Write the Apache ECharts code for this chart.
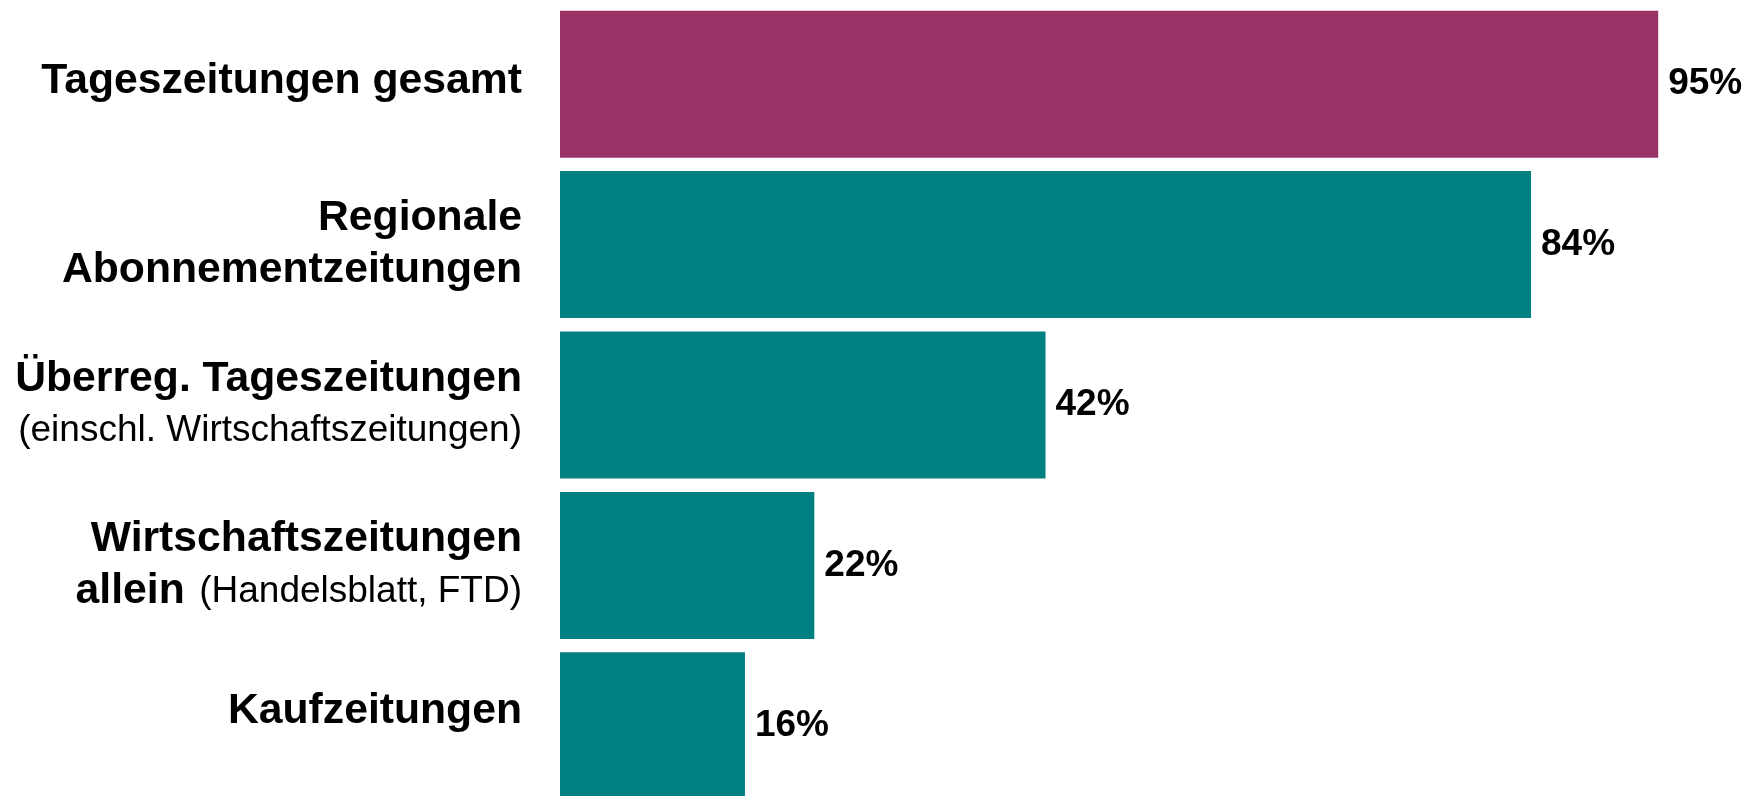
<!DOCTYPE html>
<html>
<head>
<meta charset="utf-8">
<script src="https://cdn.jsdelivr.net/npm/echarts@6/dist/echarts.min.js"></script>
<style>
html,body{margin:0;padding:0;background:#fff;}
#c{width:1752px;height:796px;}
</style>
</head>
<body>
<div id="c"></div>
<script>
var categories = [
  '{b|Tageszeitungen gesamt}',
  '{b|Regionale}\n{b|Abonnementzeitungen}',
  '{b|Überreg. Tageszeitungen}\n{n|(einschl. Wirtschaftszeitungen)}',
  '{b|Wirtschaftszeitungen}\n{b|allein}{s| }{n|(Handelsblatt, FTD)}',
  '{b|Kaufzeitungen}'
];
var values = [95, 84, 42, 22, 16];
var barColors = ['#993366', '#008080', '#008080', '#008080', '#008080'];
var labelLift = [6, 0, 0, 0, 30];

var chart = echarts.init(document.getElementById('c'));
chart.setOption({
  animation: false,
  backgroundColor: '#ffffff',
  grid: { left: 560, width: 1156, top: 4, height: 802, containLabel: false, outerBoundsMode: 'none' },
  xAxis: { type: 'value', min: 0, max: 100, show: false },
  yAxis: {
    type: 'category',
    inverse: true,
    data: categories.map(function (c, i) {
      return { value: c, textStyle: { padding: [0, 0, labelLift[i], 0] } };
    }),
    axisLine: { show: false },
    axisTick: { show: false },
    splitLine: { show: false },
    axisLabel: {
      margin: 38,
      align: 'right',
      lineHeight: 52,
      rich: {
        b: { fontFamily: 'Liberation Sans', fontWeight: 'bold', fontSize: 42.7, color: '#000', lineHeight: 52 },
        n: { fontFamily: 'Liberation Sans', fontWeight: 'normal', fontSize: 37, color: '#000', lineHeight: 52 },
        s: { fontFamily: 'Liberation Sans', fontWeight: 'normal', fontSize: 52, color: '#000', lineHeight: 52 }
      }
    }
  },
  series: [{
    type: 'bar',
    barWidth: 147,
    data: values.map(function (v, i) { return { value: v, itemStyle: { color: barColors[i] } }; }),
    label: {
      show: true,
      position: 'right',
      distance: 10,
      formatter: '{c}%',
      fontFamily: 'Liberation Sans',
      fontWeight: 'bold',
      fontSize: 37,
      color: '#000'
    }
  }]
});
</script>
</body>
</html>
